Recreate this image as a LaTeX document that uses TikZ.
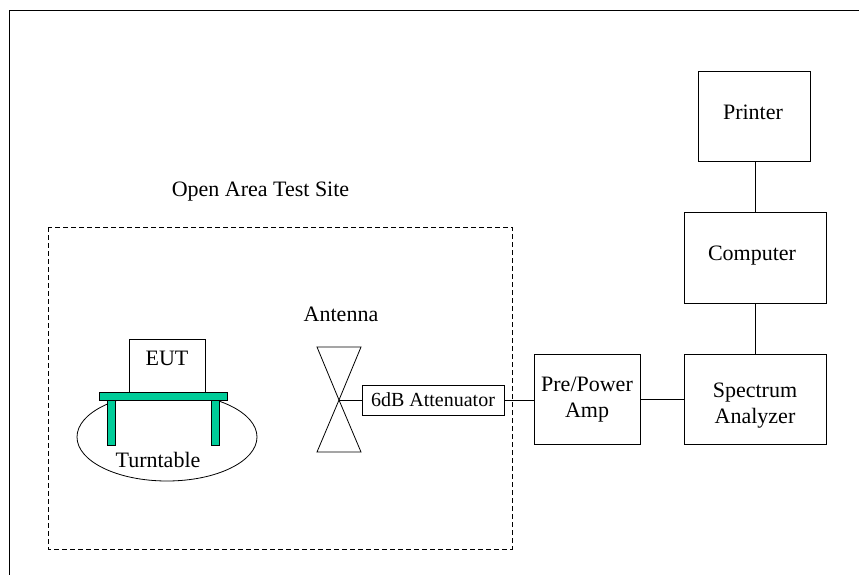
\documentclass[tikz,border=0pt]{standalone}
\usepackage{fontspec}
\setmainfont{Liberation Serif}
\definecolor{tablegreen}{HTML}{00CC99}
\begin{document}
\begin{tikzpicture}[x=1pt,y=-1pt,
  line width=0.8pt,
  lbl/.style={font=\fontsize{22}{26}\selectfont,inner sep=0pt,align=center},
  box/.style={draw,minimum width=#1,inner sep=0pt},
  greenpart/.style={draw=black,fill=tablegreen}]
\useasboundingbox (0,0) rectangle (859,575);
\coordinate (fa) at (859,10);
\coordinate (fb) at (9,10);
\coordinate (fc) at (9,575);
\draw (fa) -- (fb) -- (fc);
\node[lbl] (site) at (260.5,192) {Open Area Test Site};
\draw[dashed,dash pattern=on 5pt off 3pt] (48,227) rectangle (512,549);
\node[box=112pt,minimum height=90pt] (printer) at (754,116) {};
\node[lbl] (printerlabel) at (753,112) {Printer};
\node[box=142pt,minimum height=91pt] (computer) at (755,257.5) {};
\node[lbl] (computerlabel) at (752,256) {Computer};
\node[box=142pt,minimum height=90pt] (spectrum) at (755,399) {};
\node[lbl] (spectrumlabel) at (755,406) {Spectrum\\Analyzer};
\node[box=106pt,minimum height=90pt] (amp) at (587,399) {};
\node[lbl] (amplabel) at (587,400) {Pre/Power\\Amp};
\node[box=142pt,minimum height=30pt,font=\fontsize{20}{24}\selectfont] (att) at (433,400) {6dB Attenuator};
\node[lbl] (antlabel) at (341,314) {Antenna};
\coordinate (ant) at (339,400);
\coordinate (tl) at (317,347);
\coordinate (tr) at (361,347);
\coordinate (bl) at (317,452);
\coordinate (br) at (361,452);
\draw (ant) -- (tl) -- (tr) -- cycle;
\draw (ant) -- (bl) -- (br) -- cycle;
\draw (ant) -- (att.west);
\draw (att.east) -- (att.east -| amp.west);
\draw (amp.east) -- (amp.east -| spectrum.west);
\draw (spectrum.north) -- (computer.south);
\draw (computer.north) -- (computer.north |- printer.south);
\draw (167,437) ellipse [x radius=90,y radius=44];
\node[box=76pt,minimum height=53pt,fill=white] (eut) at (167,365.5) {};
\node[lbl] (eutlabel) at (167,358) {EUT};
\draw[greenpart] (107,400) rectangle (115,445);
\draw[greenpart] (211.5,400) rectangle (219.5,445);
\draw[greenpart] (99.5,392) rectangle (227,400);
\node[lbl] (turn) at (158,460) {Turntable};
\end{tikzpicture}
\end{document}
